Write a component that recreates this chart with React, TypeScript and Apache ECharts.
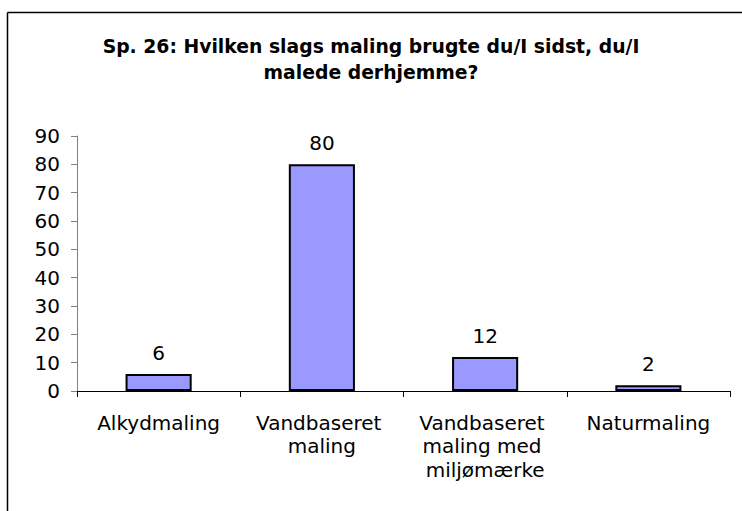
import React, { useEffect, useRef } from "react";
import * as echarts from "echarts";

const categories = [
  "Alkydmaling",
  "Vandbaseret maling",
  "Vandbaseret maling med miljømærke",
  "Naturmaling",
];
const values = [6, 80, 12, 2];
const titleLines = ["Sp. 26: Hvilken slags maling brugte du/I sidst, du/I", "malede derhjemme?"];
const yMin = 0;
const yMax = 90;
const yStep = 10;

const FONT = "DejaVu Sans";

export default function App() {
  const ref = useRef<HTMLDivElement>(null);
  useEffect(() => {
    if (!ref.current) return;
    const chart = echarts.init(ref.current, undefined, { renderer: "svg" });
    chart.setOption({
      animation: false,
      backgroundColor: "#ffffff",
      title: {
        text: titleLines.join("\n"),
        left: "center",
        top: 28,
        textStyle: {
          fontFamily: FONT,
          fontSize: 18.8,
          fontWeight: "bold",
          color: "#000",
          lineHeight: 26,
        },
      },
      grid: { left: 77, right: 12, top: 136, bottom: 120, containLabel: false },
      xAxis: {
        type: "category",
        data: categories,
        axisLine: { lineStyle: { color: "#000", width: 1 } },
        axisTick: { show: true, inside: false, length: 6, lineStyle: { color: "#000" } },
        axisLabel: {
          interval: 0,
          margin: 20,
          fontFamily: FONT,
          fontSize: 20,
          color: "#000",
          lineHeight: 23.5,
          width: 145,
          overflow: "break",
        },
      },
      yAxis: {
        type: "value",
        min: yMin,
        max: yMax,
        interval: yStep,
        axisLine: { show: true, lineStyle: { color: "#808080", width: 1 } },
        axisTick: { show: true, inside: false, length: 6, lineStyle: { color: "#808080" } },
        splitLine: { show: false },
        axisLabel: { margin: 17, fontFamily: FONT, fontSize: 20, color: "#000" },
      },
      series: [
        {
          type: "bar",
          data: values,
          barWidth: "40.5%",
          itemStyle: { color: "#9999FF", borderColor: "#000", borderWidth: 2 },
          label: {
            show: true,
            position: "top",
            distance: 11,
            fontFamily: FONT,
            fontSize: 20,
            color: "#000",
          },
        },
      ],
      graphic: [
        {
          type: "line",
          shape: { x1: 7.5, y1: 12.5, x2: 742, y2: 12.5 },
          style: { stroke: "#000", lineWidth: 1.5 },
          silent: true,
        },
        {
          type: "line",
          shape: { x1: 7.5, y1: 12.5, x2: 7.5, y2: 511 },
          style: { stroke: "#000", lineWidth: 1.5 },
          silent: true,
        },
      ],
    });
    return () => chart.dispose();
  }, []);
  return (
    <div
      ref={ref}
      style={{ position: "fixed", left: 0, top: 0, width: 742, height: 511 }}
    />
  );
}
